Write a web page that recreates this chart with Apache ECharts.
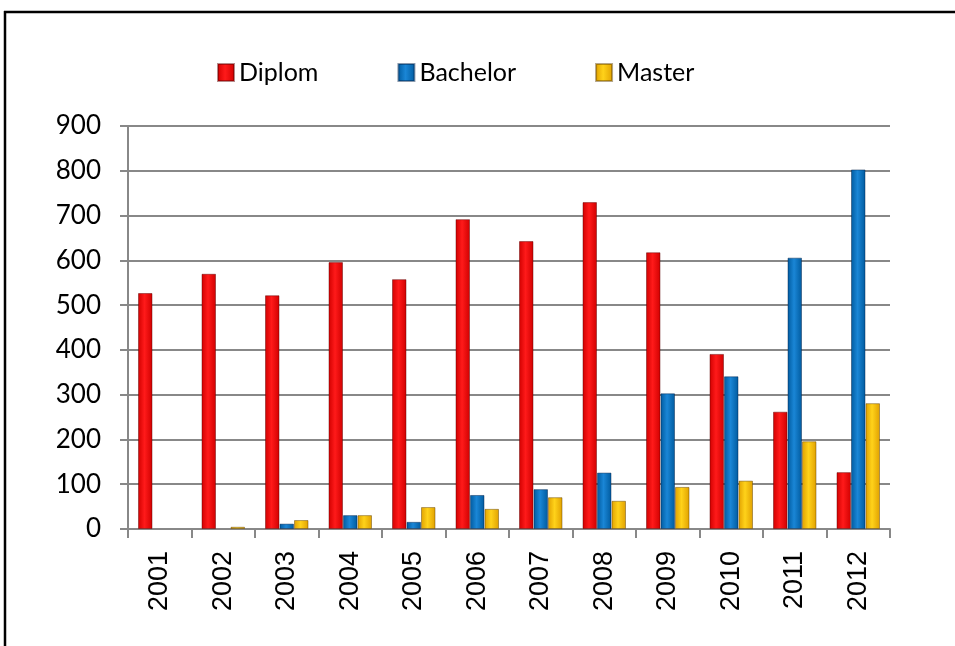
<!DOCTYPE html>
<html>
<head>
<meta charset="utf-8">
<script src="https://cdn.jsdelivr.net/npm/echarts@6/dist/echarts.min.js"></script>
<style>
html,body{margin:0;padding:0;background:#fff;}
#main{width:955px;height:646px;}
</style>
</head>
<body>
<div id="main"></div>
<script>
var categories = ['2001','2002','2003','2004','2005','2006','2007','2008','2009','2010','2011','2012'];
var diplom   = [527, 570, 522, 596, 558, 692, 643, 730, 618, 391, 262, 127];
var bachelor = [null, null, 12, 31, 16, 76, 89, 126, 303, 341, 606, 803];
var master   = [null, 5, 20, 31, 49, 45, 71, 63, 94, 108, 196, 281];
var yTicks = [0, 100, 200, 300, 400, 500, 600, 700, 800, 900];

function grad(edge, mid) {
  return new echarts.graphic.LinearGradient(0, 0, 1, 0, [
    {offset: 0, color: edge},
    {offset: 0.45, color: mid},
    {offset: 1, color: edge}
  ]);
}

var chart = echarts.init(document.getElementById('main'));
chart.setOption({
  animation: false,
  backgroundColor: '#fff',
  graphic: [
    {type: 'line', shape: {x1: 5, y1: 11, x2: 5, y2: 646}, style: {stroke: '#000', lineWidth: 2.5}},
    {type: 'line', shape: {x1: 4, y1: 12, x2: 955, y2: 12}, style: {stroke: '#000', lineWidth: 2.5}}
  ],
  legend: {
    left: 217, top: 60, padding: 0,
    itemWidth: 16, itemHeight: 17, itemGap: 79,
    icon: 'rect',
    textStyle: {fontFamily: 'Lato', fontSize: 25, color: '#000'},
    data: ['Diplom', 'Bachelor', 'Master']
  },
  grid: {left: 128, right: 65, top: 126, bottom: 117},
  xAxis: {
    type: 'category',
    data: categories,
    axisLine: {lineStyle: {color: '#888', width: 2}},
    axisTick: {show: true, length: 9, lineStyle: {color: '#888', width: 2}},
    axisLabel: {rotate: 90, margin: 22, fontFamily: 'Liberation Sans', fontSize: 27, color: '#000'}
  },
  yAxis: {
    type: 'value',
    min: yTicks[0], max: yTicks[yTicks.length - 1], interval: 100,
    axisLine: {show: true, lineStyle: {color: '#888', width: 2}},
    axisTick: {show: true, length: 8, lineStyle: {color: '#888', width: 2}},
    axisLabel: {margin: 27, fontFamily: 'Lato', fontSize: 26, color: '#000'},
    splitLine: {lineStyle: {color: '#888', width: 2}}
  },
  series: [
    {name: 'Diplom', type: 'bar', data: diplom, barWidth: 14.5, barGap: '0%',
     itemStyle: {color: grad('#d00000', '#ff1a1a'), borderColor: 'rgba(90,0,0,0.45)', borderWidth: 1}},
    {name: 'Bachelor', type: 'bar', data: bachelor, barWidth: 14.5, barGap: '0%',
     itemStyle: {color: grad('#005a9e', '#1a86d6'), borderColor: 'rgba(0,30,70,0.45)', borderWidth: 1}},
    {name: 'Master', type: 'bar', data: master, barWidth: 14.5, barGap: '0%',
     itemStyle: {color: grad('#e0a000', '#ffd21a'), borderColor: 'rgba(90,60,0,0.45)', borderWidth: 1}}
  ]
});
</script>
</body>
</html>
